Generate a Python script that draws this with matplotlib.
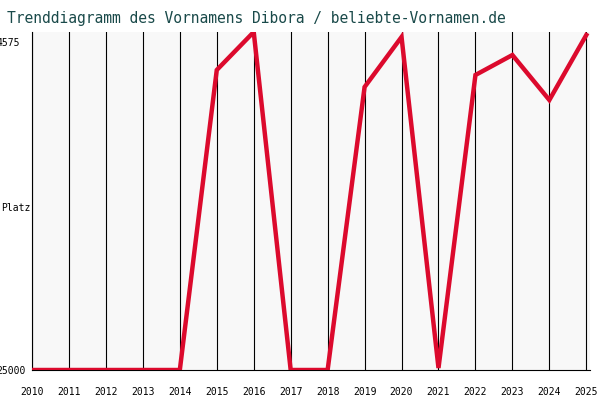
import matplotlib.pyplot as plt

years = list(range(2010, 2026))
ranks = [25000, 25000, 25000, 25000, 25000, 6319, 3952, 25000, 25000,
         7378, 4264, 24875, 6630, 5385, 8187, 4139]

fig = plt.figure(figsize=(6, 4), dpi=100)
fig.patch.set_facecolor("white")
ax = fig.add_axes([32 / 600, 30 / 400, 558 / 600, 338 / 400])
ax.set_facecolor("#f8f8f8")

for y in years:
    ax.axvline(y, color="black", lw=0.8, zorder=1)
ax.plot(years, ranks, color="#dc0a2d", lw=3.2, zorder=3, solid_joinstyle="miter")

ax.set_xlim(2010, 2025.1)
ax.set_ylim(25000, 3952)
ax.set_yticks([25000, 4575])
ax.set_yticklabels(["25000", "4575"], family="DejaVu Sans Mono", fontsize=7)
ax.set_xticks(years)
ax.set_xticklabels([str(y) for y in years], family="DejaVu Sans Mono", fontsize=7)
ax.tick_params(axis="x", length=0, pad=12)
ax.tick_params(axis="y", length=0)
for lbl in ax.get_yticklabels():
    lbl.set_horizontalalignment("left")
    lbl.set_x(-0.055)
for s in ["top", "right"]:
    ax.spines[s].set_visible(False)
ax.spines["left"].set_color("black")
ax.spines["bottom"].set_color("black")
ax.text(-0.055, 0.48, "Platz", transform=ax.transAxes, ha="left", va="center",
        family="DejaVu Sans Mono", fontsize=7)

fig.text(0.012, 0.955, "Trenddiagramm des Vornamens Dibora / beliebte-Vornamen.de",
         family="DejaVu Sans Mono", fontsize=10.5, color="#1a4a4a", va="center")

fig.savefig("out.png", dpi=100)
